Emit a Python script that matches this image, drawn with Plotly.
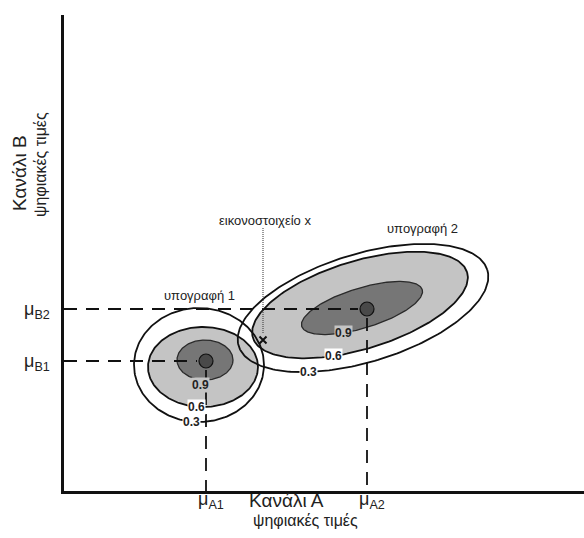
import numpy as np
import plotly.graph_objects as go

# Spectral signatures of two classes: mean digital values in channel A and B
signature_names = ["υπογραφή 1", "υπογραφή 2"]
mean_A = [142, 303]
mean_B = [130, 182]
mean_A_labels = ["μ<sub>A1</sub>", "μ<sub>A2</sub>"]
mean_B_labels = ["μ<sub>B1</sub>", "μ<sub>B2</sub>"]

# Equal-probability contours drawn around each mean
levels = [0.9, 0.6, 0.3]
level_labels = ["0.9", "0.6", "0.3"]

# Half-lengths of the principal axes for each contour (order follows `levels`)
major_1 = [28, 55, 65]
minor_1 = [20, 40, 57]
major_2 = [63, 112, 130]
minor_2 = [20, 44, 54]
tilt_deg = [0, 17]          # orientation of the major axis (correlation of A and B)
# small offsets of each contour's centre from the class mean
offset_1_A = [-1, -3, -7]
offset_1_B = [1, -6, -4]
offset_2_A = [-5, -7, -4]
offset_2_B = [1, 4, 1]

# Unknown pixel to be classified
pixel_A = [199]
pixel_B = [151]

X_MAX, Y_MAX = 520, 476

majors = [major_1, major_2]
minors = [minor_1, minor_2]
offs_A = [offset_1_A, offset_2_A]
offs_B = [offset_1_B, offset_2_B]
# parameter angle (deg) on each contour where its probability is written
label_t = [[-100, -97, -97], [-113, -111, -123]]


def contour(sig, k, n=240, t_deg=None):
    cx = mean_A[sig] + offs_A[sig][k]
    cy = mean_B[sig] + offs_B[sig][k]
    a, b = majors[sig][k], minors[sig][k]
    th = np.radians(tilt_deg[sig])
    t = np.linspace(0, 2 * np.pi, n) if t_deg is None else np.radians(np.atleast_1d(t_deg))
    x = cx + a * np.cos(t) * np.cos(th) - b * np.sin(t) * np.sin(th)
    y = cy + a * np.cos(t) * np.sin(th) + b * np.sin(t) * np.cos(th)
    return x, y


def paper_x(v):
    return v / X_MAX


def paper_y(v):
    return v / Y_MAX


LIGHT = "#c4c4c4"
DARK = "#767676"
INK = "#111111"
TEXT = "#222222"
FONT = "Liberation Sans, Arial, sans-serif"

fig = go.Figure()

# light grey band (0.6 contour) for both signatures, larger one first
for sig in (1, 0):
    x, y = contour(sig, 1)
    fig.add_trace(go.Scatter(x=x, y=y, mode="lines", fill="toself", fillcolor=LIGHT,
                             line=dict(width=0), hoverinfo="skip", showlegend=False))

# dark core (0.9 contour)
for sig in (1, 0):
    x, y = contour(sig, 0)
    fig.add_trace(go.Scatter(x=x, y=y, mode="lines", fill="toself", fillcolor=DARK,
                             line=dict(color="#2a2a2a", width=1.3), hoverinfo="skip",
                             showlegend=False))

# outlines of the 0.6 and 0.3 contours
for sig in (0, 1):
    for k in (1, 2):
        x, y = contour(sig, k)
        fig.add_trace(go.Scatter(x=x, y=y, mode="lines", line=dict(color=INK, width=1.8),
                                 hoverinfo="skip", showlegend=False))

# dashed guides from each mean to the axes
dash = "13px,9px"
for sig in (0, 1):
    fig.add_trace(go.Scatter(x=[0, mean_A[sig] - 9], y=[mean_B[sig], mean_B[sig]],
                             mode="lines", line=dict(color=INK, width=1.8, dash=dash),
                             hoverinfo="skip", showlegend=False))
    fig.add_trace(go.Scatter(x=[mean_A[sig], mean_A[sig]], y=[mean_B[sig] - 9, 0],
                             mode="lines", line=dict(color=INK, width=1.8, dash=dash),
                             hoverinfo="skip", showlegend=False))

# class means
fig.add_trace(go.Scatter(x=mean_A, y=mean_B, mode="markers",
                         marker=dict(size=14, color="#494949", line=dict(color=INK, width=1.2)),
                         hoverinfo="skip", showlegend=False))

# unknown pixel and its pointer line
fig.add_trace(go.Scatter(x=[pixel_A[0], pixel_A[0]], y=[pixel_B[0] + 7, 263], mode="lines",
                         line=dict(color="#333333", width=1, dash="1px,1px"),
                         hoverinfo="skip", showlegend=False))
fig.add_trace(go.Scatter(x=pixel_A, y=pixel_B, mode="markers",
                         marker=dict(symbol="x-thin", size=7, line=dict(color=INK, width=2)),
                         hoverinfo="skip", showlegend=False))

annotations = []

# probability labels on each contour
for sig in (0, 1):
    for k in range(3):
        lx, ly = contour(sig, k, t_deg=label_t[sig][k])
        annotations.append(dict(x=float(lx[0]), y=float(ly[0]), text=f"<b>{level_labels[k]}</b>",
                                yshift=-5 if (sig == 0 and k == 0) else 0,
                                showarrow=False, font=dict(family=FONT, size=12, color=TEXT),
                                bgcolor=LIGHT if k == 0 else "white", borderpad=0))

# signature names
annotations.append(dict(x=mean_A[0] - 7, y=mean_B[0] + 66, text=signature_names[0], showarrow=False,
                        font=dict(family=FONT, size=13, color=TEXT)))
annotations.append(dict(x=mean_A[1] + 55, y=mean_B[1] + 81, text=signature_names[1], showarrow=False,
                        font=dict(family=FONT, size=13, color=TEXT)))
annotations.append(dict(x=pixel_A[0] + 2, y=271, text="εικονοστοιχείο x", showarrow=False,
                        font=dict(family=FONT, size=13, color=TEXT)))

# mean tick labels (placed in paper space, outside the plotting area)
for sig in (0, 1):
    annotations.append(dict(xref="paper", yref="paper", x=paper_x(-12), y=paper_y(mean_B[sig] - 1),
                            xanchor="right", yanchor="middle", text=mean_B_labels[sig],
                            showarrow=False, font=dict(family=FONT, size=18, color=TEXT)))
    annotations.append(dict(xref="paper", yref="paper", x=paper_x(mean_A[sig] + 5), y=paper_y(4),
                            xanchor="center", yanchor="top", text=mean_A_labels[sig],
                            showarrow=False, font=dict(family=FONT, size=18, color=TEXT)))

# axis titles
annotations.append(dict(xref="paper", yref="paper", x=paper_x(222), y=paper_y(-10),
                        xanchor="center", yanchor="middle", text="Κανάλι Α",
                        showarrow=False, font=dict(family=FONT, size=19, color=TEXT)))
annotations.append(dict(xref="paper", yref="paper", x=paper_x(241), y=paper_y(-29),
                        xanchor="center", yanchor="middle", text="ψηφιακές τιμές",
                        showarrow=False, font=dict(family=FONT, size=16, color=TEXT)))
annotations.append(dict(xref="paper", yref="paper", x=paper_x(-45), y=paper_y(318),
                        xanchor="center", yanchor="middle", text="Κανάλι Β", textangle=-90,
                        showarrow=False, font=dict(family=FONT, size=19, color=TEXT)))
annotations.append(dict(xref="paper", yref="paper", x=paper_x(-24), y=paper_y(326),
                        xanchor="center", yanchor="middle", text="ψηφιακές τιμές", textangle=-90,
                        showarrow=False, font=dict(family=FONT, size=16, color=TEXT)))

axis_common = dict(showgrid=False, zeroline=False, showticklabels=False, ticks="",
                   showline=True, linecolor=INK, linewidth=3, fixedrange=True)

fig.update_layout(
    width=584, height=538,
    margin=dict(l=64, r=0, t=15, b=47, pad=0),
    paper_bgcolor="white", plot_bgcolor="white",
    xaxis=dict(range=[0, X_MAX], **axis_common),
    yaxis=dict(range=[0, Y_MAX], **axis_common),
    annotations=annotations,
    showlegend=False,
)

fig.write_html("out.html")
